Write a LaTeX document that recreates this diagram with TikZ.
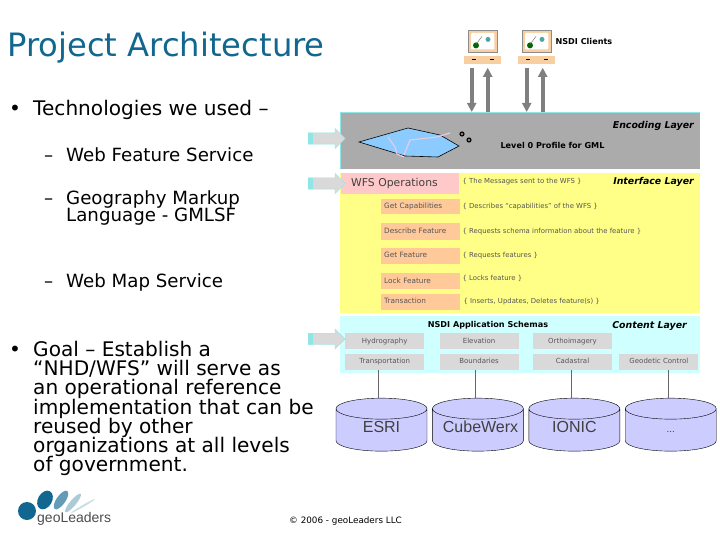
\documentclass[tikz,border=0pt]{standalone}
\usepackage{fontspec}
\setmainfont{DejaVu Sans}
\newfontfamily\arialfont{Liberation Sans}
\usepackage{xcolor}
\usepackage{tikz}
\usetikzlibrary{arrows.meta,positioning,shapes.geometric,shapes.arrows}
\definecolor{TitleBlue}{HTML}{11678F}
\definecolor{EncodeGray}{HTML}{ABABAB}
\definecolor{EdgeCyan}{HTML}{8FE6E6}
\definecolor{SoftYellow}{HTML}{FFFF88}
\definecolor{SoftPink}{HTML}{FFC9C9}
\definecolor{SoftOrange}{HTML}{FFC99A}
\definecolor{SoftCyan}{HTML}{D0FFFF}
\definecolor{BoxGray}{HTML}{D9D9D9}
\definecolor{SoftViolet}{HTML}{CCCCFF}
\definecolor{ClientTan}{HTML}{F8CFA0}
\definecolor{LineGray}{HTML}{7F7F7F}
\definecolor{TextGray}{HTML}{555555}
\newcommand{\tightlines}{\lineskiplimit -20pt\relax}

\begin{document}
\begin{tikzpicture}[
    x=1pt, y=-1pt,
    title/.style={anchor=base west, inner sep=0pt, text=TitleBlue, font=\fontsize{32.2}{32}\selectfont},
    textline/.style={anchor=base west, inner sep=0pt, align=left, font=\fontsize{18.2}{19.2}\selectfont\tightlines},
    bigline/.style={textline, font=\fontsize{20.1}{19.2}\selectfont\tightlines},
    layer/.style={rectangle, anchor=north west, inner sep=0pt, minimum width=360pt},
    layername/.style={anchor=east, inner sep=0pt, font=\fontsize{9.4}{10}\selectfont\bfseries\itshape},
    boldlabel/.style={anchor=west, inner sep=0pt, font=\fontsize{8.1}{9}\selectfont\bfseries},
    opbox/.style={rectangle, fill=SoftOrange, inner xsep=3pt, inner ysep=0pt, anchor=north west, text width=73pt, align=left, text=TextGray, font=\fontsize{7.3}{8}\selectfont, text height=6pt, text depth=2pt},
    opnote/.style={anchor=west, inner sep=0pt, text=TextGray, font=\fontsize{6.9}{8}\selectfont},
    schema/.style={rectangle, fill=BoxGray, inner sep=0pt, minimum width=79pt, minimum height=16pt, text=TextGray, font=\fontsize{7}{8}\selectfont, text height=6pt, text depth=2pt},
    store/.style={cylinder, shape border rotate=90, aspect=0.3, draw=black, fill=SoftViolet, minimum width=91pt, minimum height=53pt, inner sep=0pt, text width=70pt, align=center, text height=10pt, text depth=5pt, text=black!75, font=\arialfont\fontsize{16}{16}\selectfont},
    link/.style={draw=black!60, thin},
    screen/.style={rectangle, draw=black!45, fill=ClientTan, minimum width=29pt, minimum height=22pt, inner sep=0pt},
    desk/.style={rectangle, fill=ClientTan, minimum width=37pt, minimum height=8pt, inner sep=0pt},
    flow/.style={-{Triangle[width=9pt,length=9pt]}, line width=3.6pt, draw=LineGray},
    sidearrow/.style={single arrow, draw=EdgeCyan, fill=BoxGray, anchor=west, minimum height=37pt, single arrow head extend=4.5pt, single arrow head indent=0pt, inner sep=5.5pt,
        path picture={\fill[EdgeCyan] (path picture bounding box.north west) rectangle ([xshift=5pt]path picture bounding box.south west);}},
    logoball/.style={ellipse, inner sep=0pt}
]
\useasboundingbox (0,0) rectangle (720,540);

% left column
\node[title] (heading) at (7,57) {Project Architecture};
\node[bigline] (b1) at (9,116) {•};
\node[bigline] (tech) at (33,116) {Technologies we used –};
\node[textline] (d1) at (44,162) {–};
\node[textline] (wfs) at (66,162) {Web Feature Service};
\node[textline] (d2) at (44,205) {–};
\node[textline, font=\fontsize{18.2}{17}\selectfont\tightlines, anchor=north west] (gml) at (66,190) {Geography Markup\\Language - GMLSF};
\node[textline] (d3) at (44,287) {–};
\node[textline] (wms) at (66,287) {Web Map Service};
\node[bigline] (b2) at (9,356) {•};
\node[bigline, anchor=north west] (goal) at (33,341) {Goal – Establish a\\“NHD/WFS” will serve as\\an operational reference\\implementation that can be\\reused by other\\organizations at all levels\\of government.};

% layers
\node[layer, fill=EncodeGray, minimum height=57pt] (encoding) at (340,112) {};
\node[layer, fill=SoftYellow, minimum height=140pt] (interface) at (340,173) {};
\node[layer, fill=SoftCyan, minimum height=57pt] (content) at (340,316) {};
\draw[EdgeCyan, thick] (encoding.north west) -- (encoding.south west);
\draw[EdgeCyan] (encoding.north west) -- (encoding.north east);
\node[layername] at (694,126) {Encoding Layer};
\node[layername] at (694,182) {Interface Layer};
\node[layername] at (687,326) {Content Layer};
\node[boldlabel, anchor=center] at (552.5,145) {Level 0 Profile for GML};
\node[boldlabel, anchor=center] at (488,325) {NSDI Application Schemas};

% gml outline
\fill[blue!45!cyan!45] (359,142) -- (408,128) -- (440,135) -- (459,146) -- (438,157) -- (405,156) -- cycle;
\draw[black, semithick] (359,142) -- (408,128) -- (440,135) -- (459,146) -- (438,157) -- (405,156) -- cycle;
\draw[violet!20, line width=1.2pt] (388,137) -- (395,147) -- (397,154) -- (404,157) (404,155) -- (410,140) -- (437,137) -- (450,133);
\draw[black, line width=1.1pt, fill=black!50] (462,134) circle (2pt) (469,140) circle (2pt);

% operations
\node[rectangle, fill=SoftPink, anchor=north west, inner xsep=10pt, inner ysep=0pt, text width=98pt, minimum height=21pt, text=black!75, font=\fontsize{10.8}{11}\selectfont] (operations) at (341,173) {WFS Operations};
\node[opnote, right=3pt of operations, yshift=2pt] (n0) {\{ The Messages sent to the WFS \}};
\node[opbox, minimum height=15pt] (capabilities) at (381,199) {Get Capabilities};
\node[opbox, minimum height=17pt, below=8pt of capabilities] (describe) {Describe Feature};
\node[opbox, minimum height=16pt, below=8pt of describe] (getfeature) {Get Feature};
\node[opbox, minimum height=16pt, below=9pt of getfeature] (lock) {Lock Feature};
\node[opbox, minimum height=16pt, below=4pt of lock] (transaction) {Transaction};
\node[opnote, right=2pt of capabilities] (n1) {\{ Describes “capabilities” of the WFS \}};
\node[opnote, right=2pt of describe] (n2) {\{ Requests schema information about the feature \}};
\node[opnote, right=2pt of getfeature] (n3) {\{ Requests features \}};
\node[opnote, right=2pt of lock, yshift=3pt] (n4) {\{ Locks feature \}};
\node[opnote, right=3pt of transaction] (n5) {\{ Inserts, Updates, Deletes feature(s) \}};

% schemas
\node[schema, anchor=north west] (hydro) at (345,333) {Hydrography};
\node[schema, right=15pt of hydro] (elevation) {Elevation};
\node[schema, right=14pt of elevation] (ortho) {Orthoimagery};
\node[schema, below=4pt of hydro] (transport) {Transportation};
\node[schema, right=15pt of transport] (bounds) {Boundaries};
\node[schema, right=14pt of bounds] (cadastral) {Cadastral};
\node[schema, right=7pt of cadastral] (geodetic) {Geodetic Control};

% stores
\node[store] (esri) at (381.5,430) {ESRI};
\node[store, right=5pt of esri] (cubewerx) {CubeWerx};
\node[store, right=5pt of cubewerx] (ionic) {IONIC};
\node[store, right=5pt of ionic, font=\arialfont\fontsize{10}{11}\selectfont] (other) {...};
\draw[link] ([xshift=-3pt]esri.top) -- ([xshift=-3pt]esri.top |- transport.south);
\draw[link] ([xshift=-3pt]cubewerx.top) -- ([xshift=-3pt]cubewerx.top |- bounds.south);
\draw[link] ([xshift=-3pt]ionic.top) -- ([xshift=-3pt]ionic.top |- cadastral.south);
\draw[link] ([xshift=-3pt]other.top) -- ([xshift=-3pt]other.top |- geodetic.south);

% side arrows
\node[sidearrow] (s1) at (308,138.5) {};
\node[sidearrow] (s2) at (308,183.5) {};
\node[sidearrow] (s3) at (308,339) {};

% clients
\node[screen, anchor=north west] (pc1) at (468,30) {};
\node[screen, anchor=north west] (pc2) at (522,30) {};
\node[desk, below=3pt of pc1] (desk1) {};
\node[desk, below=3pt of pc2] (desk2) {};
\node[boldlabel, right=4pt of pc2] {NSDI Clients};
\foreach \pc in {pc1,pc2}{
    \fill[white, rounded corners=1pt] ([shift={(3pt,3pt)}]\pc.south west) rectangle ([shift={(-3pt,-3pt)}]\pc.north east);
    \fill[green!40!black] ([shift={(8pt,7pt)}]\pc.south west) circle (3pt);
    \fill[teal!70] ([shift={(20pt,13pt)}]\pc.south west) circle (2.5pt);
    \draw[black!60, thin] ([shift={(8pt,8pt)}]\pc.south west) -- ([shift={(14pt,16pt)}]\pc.south west);
}
\foreach \dk in {desk1,desk2}{
    \draw[black, thick] ([xshift=-11pt]\dk.center) -- ([xshift=-7pt]\dk.center) ([xshift=7pt]\dk.center) -- ([xshift=11pt]\dk.center);
}
\draw[flow] ([xshift=-11pt,yshift=-4pt]desk1.south) -- ([xshift=-11pt]desk1.south |- encoding.north);
\draw[flow] ([xshift=5pt]desk1.south |- encoding.north) -- ([xshift=5pt,yshift=-4pt]desk1.south);
\draw[flow] ([xshift=-10pt,yshift=-4pt]desk2.south) -- ([xshift=-10pt]desk2.south |- encoding.north);
\draw[flow] ([xshift=6pt]desk2.south |- encoding.north) -- ([xshift=6pt,yshift=-4pt]desk2.south);

% logo and footer
\node[logoball, fill=TitleBlue, minimum width=18pt, minimum height=18pt] (ball1) at (27,511) {};
\node[logoball, fill=TitleBlue, minimum width=20pt, minimum height=14pt, rotate=60] (ball2) at (45,500) {};
\node[logoball, fill=TitleBlue!65, minimum width=22pt, minimum height=9pt, rotate=55] (ball3) at (61,500) {};
\node[logoball, fill=TitleBlue!35, minimum width=24pt, minimum height=6pt, rotate=50] (ball4) at (73,503) {};
\node[logoball, fill=TitleBlue!22, minimum width=28pt, minimum height=2pt, rotate=30] (ball5) at (83,506) {};
\node[anchor=west, inner sep=0pt, text=black!70, font=\arialfont\fontsize{14}{16}\selectfont] (brand) at (37,519) {geoLeaders};
\node[anchor=west, inner sep=0pt, font=\fontsize{8.8}{10}\selectfont] (copy) at (289,521) {© 2006 - geoLeaders LLC};
\end{tikzpicture}
\end{document}
